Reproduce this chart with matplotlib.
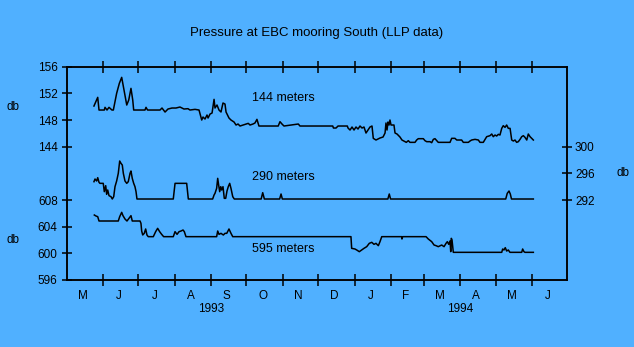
import matplotlib
matplotlib.use("Agg")
import matplotlib.pyplot as plt
import numpy as np
import pandas as pd

# days since 1993-05-01, pressure in db
days_144 = [23.2, 24.7, 26.4, 27.5, 32.0, 32.6, 34.3, 36.0, 38.5, 39.7, 42.5, 44.8,
            46.8, 48.8, 51.1, 52.8, 54.7, 56.2, 57.0, 66.6, 67.5, 68.8, 79.4, 81.1,
            83.7, 86.2, 89.6, 93.0, 96.4, 99.8, 103.2, 104.9, 109.2, 112.6, 114.9,
            116.0, 117.7, 119.4, 120.3, 122.0, 123.7, 125.4, 126.2, 127.9, 129.6,
            131.3, 133.0, 134.7, 135.6, 138.1, 139.8, 142.4, 144.1, 145.8, 147.5,
            154.5, 156.0, 158.5, 160.2, 161.9, 163.6, 180.0, 181.5, 183.2, 184.9,
            197.1, 198.5, 226.4, 227.0, 229.2, 230.9, 238.8, 239.4, 241.1, 242.8,
            244.5, 246.2, 247.9, 249.6, 251.3, 253.0, 254.7, 256.4, 258.1, 259.8,
            260.9, 263.2, 266.6, 269.2, 270.9, 271.7, 272.6, 273.4, 274.3, 275.1,
            276.0, 278.5, 279.4, 281.1, 283.6, 285.3, 289.0, 290.7, 292.1, 296.4,
            297.8, 299.2, 303.5, 304.9, 306.4, 309.2, 310.6, 312.0, 313.4, 314.9,
            316.2, 326.2, 327.6, 330.4, 331.9, 336.1, 337.5, 341.8, 343.2, 344.6,
            347.5, 350.3, 351.7, 354.5, 356.0, 357.4, 360.2, 361.7, 363.0, 364.5,
            365.9, 367.3, 368.7, 370.2, 371.5, 373.0, 374.4, 375.8, 377.3, 378.7,
            380.1, 381.5, 382.9, 384.3, 385.8, 387.2, 388.6, 390.0, 391.5, 392.8,
            394.3, 395.7, 397.1]
db_144 = [150.1, 150.7, 151.4, 149.5, 149.5, 149.9, 149.5, 149.9, 149.5, 149.5, 152.0,
          153.5, 154.4, 152.5, 150.25, 151.0, 152.75, 151.0, 149.5, 149.5, 149.9,
          149.5, 149.5, 149.8, 149.2, 149.65, 149.8, 149.8, 149.95, 149.65, 149.7,
          149.5, 149.6, 149.5, 148.0, 148.45, 148.15, 148.75, 148.3, 148.9, 149.05,
          151.1, 149.8, 150.25, 149.5, 149.2, 150.55, 150.4, 149.2, 148.3, 148.0,
          147.7, 147.25, 147.4, 147.1, 147.5, 147.25, 147.4, 147.55, 148.1, 147.1,
          147.1, 147.75, 147.4, 147.1, 147.4, 147.1, 147.1, 146.8, 146.8, 147.1,
          147.1, 146.8, 146.5, 146.95, 146.5, 146.95, 146.65, 147.1, 146.8, 146.95,
          146.05, 146.5, 146.95, 147.1, 145.25, 145.0, 145.3, 145.45, 146.05, 147.55,
          146.5, 147.7, 147.25, 148.0, 147.25, 147.25, 146.05, 145.9, 145.45, 145.0,
          144.65, 144.9, 144.65, 144.65, 145.0, 145.2, 145.2, 144.9, 144.75, 144.75,
          144.6, 145.1, 145.2, 144.9, 144.65, 144.65, 145.25, 145.25, 145.0, 145.0,
          144.65, 144.65, 144.85, 145.0, 145.1, 145.0, 144.65, 144.65, 145.1, 145.5,
          145.65, 145.9, 145.5, 145.75, 145.6, 145.85, 145.75, 146.75, 147.15, 146.9,
          147.25, 146.75, 146.75, 145.0, 144.85, 145.0, 144.65, 144.75, 145.1, 145.5,
          145.65, 145.4, 145.0, 145.9, 145.5, 145.25, 145.0]

days_290 = [23.2, 24.1, 25.5, 26.4, 27.5, 28.3, 31.1, 32.0, 33.2, 34.0, 34.9, 36.0,
            37.7, 38.8, 40.0, 41.1, 42.5, 43.9, 45.1, 46.2, 47.3, 48.2, 49.6, 51.1,
            52.4, 53.9, 54.7, 55.8, 57.0, 58.1, 59.0, 59.8, 90.7, 92.2, 102.1, 103.5,
            124.2, 125.4, 126.2, 127.6, 128.5, 129.3, 130.2, 131.1, 131.9, 133.0,
            134.1, 135.3, 136.4, 137.5, 138.7, 139.8, 141.3, 142.6, 165.5, 166.8,
            168.2, 181.2, 182.4, 183.5, 273.3, 274.5, 275.6, 373.6, 374.9, 376.4,
            377.5, 378.5, 397.1]
db_290 = [294.75, 295.15, 294.85, 295.35, 294.65, 294.5, 294.5, 293.25, 294.15, 292.85,
          293.5, 292.65, 292.5, 292.15, 292.5, 294.0, 294.85, 296.0, 297.85, 297.5,
          297.25, 296.0, 294.85, 294.5, 294.75, 296.0, 296.35, 295.25, 294.5, 294.0,
          293.25, 292.15, 292.15, 294.5, 294.5, 292.15, 292.15, 292.75, 293.0,
          293.75, 295.25, 294.25, 293.25, 294.0, 293.5, 294.0, 292.25, 292.25,
          293.35, 294.0, 294.5, 293.75, 292.5, 292.15, 292.15, 293.1, 292.15,
          292.15, 292.9, 292.15, 292.15, 292.9, 292.15, 292.15, 293.0, 293.35,
          292.9, 292.15, 292.15]

days_595 = [23.5, 24.9, 26.4, 27.5, 43.9, 45.1, 46.8, 47.9, 49.6, 51.3, 53.0, 54.7,
            55.8, 62.4, 63.2, 63.8, 64.7, 66.0, 67.2, 68.3, 69.4, 73.7, 75.7, 77.4,
            79.1, 80.8, 82.5, 90.7, 92.2, 93.9, 95.6, 97.3, 99.0, 100.1, 101.5, 127.6,
            128.5, 129.6, 131.3, 133.3, 134.7, 136.2, 138.1, 139.8, 141.3, 241.9,
            242.5, 245.3, 246.8, 249.0, 251.0, 253.0, 255.3, 257.5, 259.6, 261.5,
            263.2, 265.2, 266.6, 268.1, 285.1, 285.3, 285.9, 305.8, 307.7, 310.6,
            312.6, 314.3, 316.2, 319.1, 321.1, 322.8, 323.9, 325.1, 326.2, 326.8,
            327.3, 327.9, 329.0, 370.2, 371.0, 372.1, 373.2, 374.4, 375.8, 377.2,
            387.2, 388.0, 389.1, 390.0, 397.1]
db_595 = [605.75, 605.6, 605.5, 604.85, 604.85, 605.5, 606.15, 605.65, 605.15, 604.85,
          605.25, 605.65, 604.85, 604.85, 604.5, 603.35, 602.75, 603.0, 603.65,
          602.75, 602.5, 602.5, 603.25, 603.75, 603.25, 602.85, 602.5, 602.5,
          603.25, 602.85, 603.25, 603.35, 603.5, 603.25, 602.5, 602.5, 603.35,
          602.85, 603.0, 602.75, 603.0, 603.0, 603.65, 603.0, 602.5, 602.5, 600.75,
          600.65, 600.5, 600.25, 600.5, 600.75, 601.0, 601.5, 601.65, 601.35,
          601.5, 601.15, 601.75, 602.5, 602.5, 602.15, 602.5, 602.5, 602.15,
          601.75, 601.25, 601.15, 601.0, 601.25, 601.0, 601.5, 601.75, 601.35,
          601.85, 600.25, 602.25, 602.0, 600.15, 600.15, 600.65, 600.5, 600.85,
          600.35, 600.5, 600.15, 600.15, 600.65, 600.25, 600.15, 600.15]

left_ticks = [596, 600, 604, 608, 144, 148, 152, 156]
right_ticks = [292, 296, 300]
month_letters = ["M", "J", "J", "A", "S", "O", "N", "D", "J", "F", "M", "A", "M", "J"]
years = ["1993", "1994"]

# offsets that stack the three records on one set of axes
off_144 = 124
off_290 = 280
off_595 = 596

bg = "#50b0ff"
plt.rcParams["font.family"] = "Liberation Sans"

fig = plt.figure(figsize=(6.34, 3.47), dpi=100, facecolor=bg)
ax = fig.add_axes([0.1052, 0.1931, 0.7896, 0.6147], facecolor=bg)

ax.plot(days_144, np.array(db_144) - off_144, color="black", lw=1.1)
ax.plot(days_290, np.array(db_290) - off_290, color="black", lw=1.1)
ax.plot(days_595, np.array(db_595) - off_595, color="black", lw=1.1)

start = pd.Timestamp("1993-05-01")
month_starts = pd.date_range("1993-05-01", "1994-07-01", freq="MS")
mstart = np.array([(d - start).days for d in month_starts])
mmid = (mstart[:-1] + mstart[1:]) / 2 - 1.7

ax.set_xlim(mstart[0], mstart[-1])
ax.set_ylim(0, 32)

ax.set_xticks(mstart[1:-1])
ax.set_xticklabels([])
ax.set_xticks(mmid, minor=True)
ax.set_xticklabels(month_letters, minor=True, fontsize=8.5)
ax.tick_params(axis="x", which="major", direction="inout", length=8, width=1.1,
               top=True)
ax.tick_params(axis="x", which="minor", length=0, pad=7.5)

ypos = [v - off_595 if v > 500 else v - off_144 for v in left_ticks]
ax.set_yticks(ypos)
ax.set_yticklabels([str(v) for v in left_ticks], fontsize=8.5)
ax.tick_params(axis="y", direction="inout", length=7, width=1.1, pad=3)

ax2 = ax.twinx()
ax2.set_ylim(0, 32)
ax2.set_yticks([v - off_290 for v in right_ticks])
ax2.set_yticklabels([str(v) for v in right_ticks], fontsize=8.5)
ax2.tick_params(axis="y", direction="inout", length=7, width=1.1, pad=2)

for a in (ax, ax2):
    for s in a.spines.values():
        s.set_linewidth(1.1)

# year labels centred under Aug/Sep and Mar/Apr boundaries
ax.text(mstart[4], -0.136, years[0], transform=ax.get_xaxis_transform(),
        ha="center", va="center", fontsize=8.5)
ax.text(mstart[11], -0.136, years[1], transform=ax.get_xaxis_transform(),
        ha="center", va="center", fontsize=8.5)

ax.text(157.7, 27.35, "144 meters", fontsize=9, va="center")
ax.text(157.7, 15.5, "290 meters", fontsize=9, va="center")
ax.text(157.7, 4.65, "595 meters", fontsize=9, va="center")

fig.text(317 / 634, 1 - 33 / 347, "Pressure at EBC mooring South (LLP data)",
         ha="center", va="center", fontsize=9.5)
fig.text(13 / 634, 1 - 107 / 347, "db", ha="center", va="center", fontsize=8.5)
fig.text(13 / 634, 1 - 240 / 347, "db", ha="center", va="center", fontsize=8.5)
fig.text(623 / 634, 1 - 173 / 347, "db", ha="center", va="center", fontsize=8.5)

fig.savefig("out.png", dpi=100, facecolor=bg)
